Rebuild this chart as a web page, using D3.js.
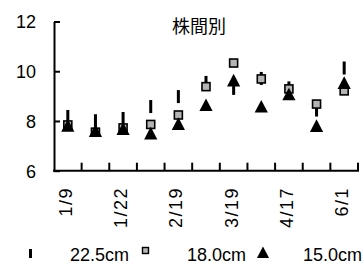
<!DOCTYPE html>
<html><head><meta charset="utf-8">
<script src="https://cdn.jsdelivr.net/npm/d3@7"></script>
<style>
html,body{margin:0;padding:0;background:#fff;}
svg{display:block;}
text{font-family:"Liberation Sans",Arial,sans-serif;fill:#000;}
</style></head>
<body>
<svg id="c" width="362" height="266"></svg>
<script>
const title = "株間別";
const categories = ["1/9","1/15","1/22","2/5","2/19","3/5","3/19","4/2","4/17","5/1","6/1"];
const shownLabels = ["1/9","1/22","2/19","3/19","4/17","6/1"];
const yTicks = [6,8,10,12];
const seriesNames = ["22.5cm","18.0cm","15.0cm"];
const s225 = [8.18,8.01,8.10,8.58,8.98,9.55,9.31,9.71,9.33,8.44,10.13];
const s180 = [7.84,7.55,7.72,7.86,8.24,9.38,10.33,9.69,9.29,8.68,9.21];
const s150 = [7.81,7.60,7.68,7.50,7.88,8.64,9.63,8.58,9.07,7.80,9.53];

const svg = d3.select("#c");
const x = d3.scaleBand().domain(categories).range([54,358]).padding(0);
const y = d3.scaleLinear().domain([6,12]).range([170.7,21.5]);

// Title
svg.append("text").attr("x",199).attr("y",33).attr("text-anchor","middle")
  .style("font-family","'Noto Sans CJK JP','Noto Sans CJK SC',sans-serif")
  .style("font-size","18px").text(title);

// Y axis
const ya = svg.append("g").attr("transform","translate(54,0)")
  .call(d3.axisLeft(y).tickValues(yTicks).tickFormat(d3.format("d")).tickSize(-6).tickPadding(18).tickSizeOuter(0));
ya.select(".domain").attr("stroke","#000").attr("stroke-width",2);
ya.selectAll(".tick line").attr("stroke","#000").attr("stroke-width",2);
ya.selectAll(".tick text").style("font-size","18px").attr("dy","0.36em");

// X axis line and ticks at band boundaries
const xa = svg.append("g");
xa.append("line").attr("x1",53).attr("x2",359).attr("y1",y(6)).attr("y2",y(6))
  .attr("stroke","#000").attr("stroke-width",2);
const bounds = categories.map(c=>x(c)).concat([x(categories[categories.length-1])+x.bandwidth()]);
xa.selectAll("line.t").data(bounds.slice(1)).join("line").attr("class","t")
  .attr("x1",d=>d).attr("x2",d=>d).attr("y1",y(6)).attr("y2",y(6)-8)
  .attr("stroke","#000").attr("stroke-width",2);
xa.selectAll("text.xl").data(categories.filter(c=>shownLabels.includes(c))).join("text")
  .attr("class","xl")
  .attr("transform",d=>`translate(${x(d)+x.bandwidth()/2-2.5},187) rotate(-90)`)
  .attr("text-anchor","end").attr("dy","0.36em")
  .style("font-size","18px").style("letter-spacing","1.5px").text(d=>d);

const cx = d=>x(d)+x.bandwidth()/2;
// 22.5cm: vertical dash markers
svg.append("g").selectAll("rect").data(categories).join("rect")
  .attr("x",(d)=>cx(d)-1.5).attr("width",3)
  .attr("y",(d,i)=>y(s225[i])-6.5).attr("height",13).attr("fill","#000");
// 18.0cm: gray squares
svg.append("g").selectAll("rect").data(categories).join("rect")
  .attr("x",d=>cx(d)-4).attr("width",8)
  .attr("y",(d,i)=>y(s180[i])-4).attr("height",8)
  .attr("fill","#b4b4b4").attr("stroke","#000").attr("stroke-width",1.6);
// 15.0cm: black triangles
const tri = (px,py,s)=>`M${px},${py-s*0.55}L${px+s*0.55},${py+s*0.5}L${px-s*0.55},${py+s*0.5}Z`;
svg.append("g").selectAll("path").data(categories).join("path")
  .attr("d",(d,i)=>tri(cx(d),y(s150[i]),12)).attr("fill","#000");

// Legend
const lg = svg.append("g");
lg.append("rect").attr("x",29).attr("y",249).attr("width",3).attr("height",9).attr("fill","#000");
lg.append("text").attr("x",70).attr("y",261).style("font-size","18px").text(seriesNames[0]);
lg.append("rect").attr("x",142.5).attr("y",247.5).attr("width",6).attr("height",6)
  .attr("fill","#b4b4b4").attr("stroke","#000").attr("stroke-width",1.4);
lg.append("text").attr("x",187).attr("y",261).style("font-size","18px").text(seriesNames[1]);
lg.append("path").attr("d",tri(263,252.5,11)).attr("fill","#000");
lg.append("text").attr("x",303).attr("y",261).style("font-size","18px").text(seriesNames[2]);
</script>
</body></html>
